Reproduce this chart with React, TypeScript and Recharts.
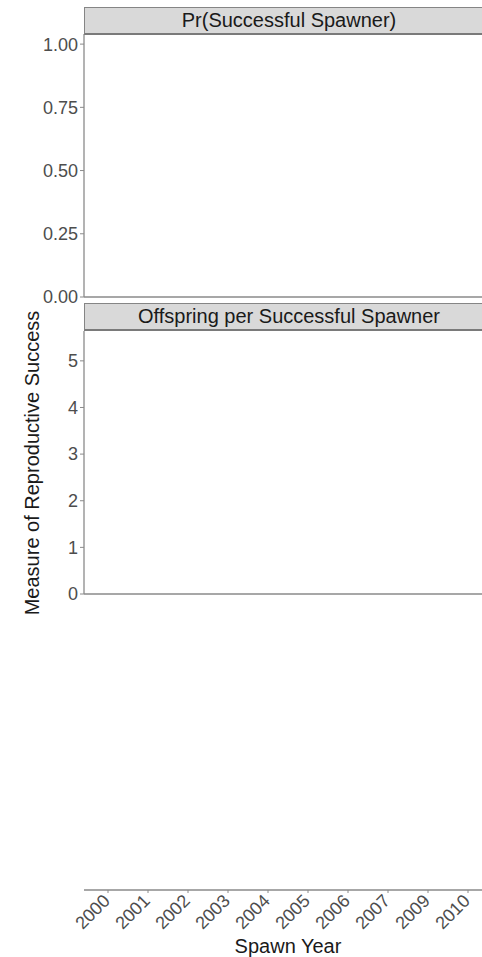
import React from "react";
import { LineChart, Line, XAxis, YAxis, ReferenceLine } from "recharts";

// Spawn years on the shared x axis (2008 has no record)
const years = ["2000", "2001", "2002", "2003", "2004", "2005", "2006", "2007", "2009", "2010"];
// No estimates were plotted for any year in either facet
const prSuccessful: (number | null)[] = [null, null, null, null, null, null, null, null, null, null];
const offspringPerSpawner: (number | null)[] = [null, null, null, null, null, null, null, null, null, null];

const prTicks = [0, 0.25, 0.5, 0.75, 1];
const offspringTicks = [0, 1, 2, 3, 4, 5];

const FONT = "'Liberation Sans', Arial, sans-serif";
const AXIS_GREY = "#8a8a8a";
const TICK_TEXT = "#4d4d4d";

const rows = years.map((year, i) => ({
  year,
  pr: prSuccessful[i],
  offspring: offspringPerSpawner[i],
}));

const CHART_W = 500;
const PLOT_LEFT = 84;

const yTickStyle = { fontSize: 18, fill: TICK_TEXT, fontFamily: FONT };

function StripHeader({ top, label }: { top: number; label: string }) {
  return (
    <div
      style={{
        position: "absolute",
        left: PLOT_LEFT,
        top,
        width: 420,
        height: 25,
        background: "#d9d9d9",
        borderTop: "1.5px solid #858585",
        borderLeft: "1.5px solid #858585",
        borderBottom: "2px solid #7a7a7a",
        boxSizing: "content-box",
        fontFamily: FONT,
        fontSize: 20,
        color: "#1a1a1a",
        lineHeight: "25px",
      }}
    >
      <div style={{ position: "absolute", left: 0, width: 408, textAlign: "center" }}>{label}</div>
    </div>
  );
}

function YearTick(props: any) {
  const { x, y, payload } = props;
  const px = x + 3;
  const py = y + 9;
  return (
    <text
      x={px}
      y={py}
      transform={`rotate(-45, ${px}, ${py})`}
      textAnchor="end"
      fontSize={18}
      fill={TICK_TEXT}
      fontFamily={FONT}
    >
      {payload.value}
    </text>
  );
}

export default function App() {
  return (
    <div
      style={{
        position: "absolute",
        left: 0,
        top: 0,
        width: 482,
        height: 957,
        overflow: "hidden",
        background: "#fff",
        fontFamily: FONT,
      }}
    >
      {/* Shared spawn-year axis */}
      <div style={{ position: "absolute", left: 0, top: 600 }}>
        <LineChart width={CHART_W} height={357} data={rows} margin={{ top: 0, right: 8, bottom: 0, left: PLOT_LEFT }}>
          <XAxis
            dataKey="year"
            height={67}
            padding={{ left: 24, right: 24 }}
            tick={<YearTick />}
            tickSize={3}
            tickMargin={0}
            interval={0}
            axisLine={{ stroke: AXIS_GREY, strokeWidth: 1.3 }}
            tickLine={{ stroke: AXIS_GREY }}
            label={{
              value: "Spawn Year",
              position: "insideBottom",
              offset: 4,
              style: { fontSize: 20, fill: "#1a1a1a", fontFamily: FONT },
            }}
          />
          <YAxis hide domain={[0, 1]} />
          <Line dataKey="pr" stroke="#333" dot={false} isAnimationActive={false} connectNulls={false} />
        </LineChart>
      </div>

      {/* Facet 2: offspring per successful spawner */}
      <div style={{ position: "absolute", left: 0, top: 300 }}>
        <LineChart width={CHART_W} height={312} data={rows} margin={{ top: 31, right: 8, bottom: 18, left: 0 }}>
          <XAxis dataKey="year" hide />
          <YAxis
            width={PLOT_LEFT}
            domain={[0, 5.64]}
            ticks={offspringTicks}
            interval={0}
            allowDataOverflow
            tick={yTickStyle}
            tickSize={4}
            tickMargin={2}
            axisLine={{ stroke: AXIS_GREY, strokeWidth: 1.3 }}
            tickLine={{ stroke: AXIS_GREY }}
          />
          <ReferenceLine y={0} stroke={AXIS_GREY} strokeWidth={1.5} />
          <Line dataKey="offspring" stroke="#333" dot={false} isAnimationActive={false} connectNulls={false} />
        </LineChart>
      </div>
      <StripHeader top={303} label="Offspring per Successful Spawner" />

      {/* Facet 1: probability of being a successful spawner */}
      <div style={{ position: "absolute", left: 0, top: 0 }}>
        <LineChart width={CHART_W} height={312} data={rows} margin={{ top: 34, right: 8, bottom: 15, left: 0 }}>
          <XAxis dataKey="year" hide />
          <YAxis
            width={PLOT_LEFT}
            domain={[0, 1.04]}
            ticks={prTicks}
            interval={0}
            allowDataOverflow
            tickFormatter={(v: number) => v.toFixed(2)}
            tick={yTickStyle}
            tickSize={4}
            tickMargin={2}
            axisLine={{ stroke: AXIS_GREY, strokeWidth: 1.3 }}
            tickLine={{ stroke: AXIS_GREY }}
          />
          <ReferenceLine y={0} stroke={AXIS_GREY} strokeWidth={1.5} />
          <Line dataKey="pr" stroke="#333" dot={false} isAnimationActive={false} connectNulls={false} />
        </LineChart>
      </div>
      <StripHeader top={7} label="Pr(Successful Spawner)" />

      {/* Shared y-axis title */}
      <div
        style={{
          position: "absolute",
          left: 32,
          top: 463,
          transform: "translate(-50%, -50%) rotate(-90deg)",
          whiteSpace: "nowrap",
          fontSize: 20,
          color: "#1a1a1a",
          fontFamily: FONT,
        }}
      >
        Measure of Reproductive Success
      </div>
    </div>
  );
}
